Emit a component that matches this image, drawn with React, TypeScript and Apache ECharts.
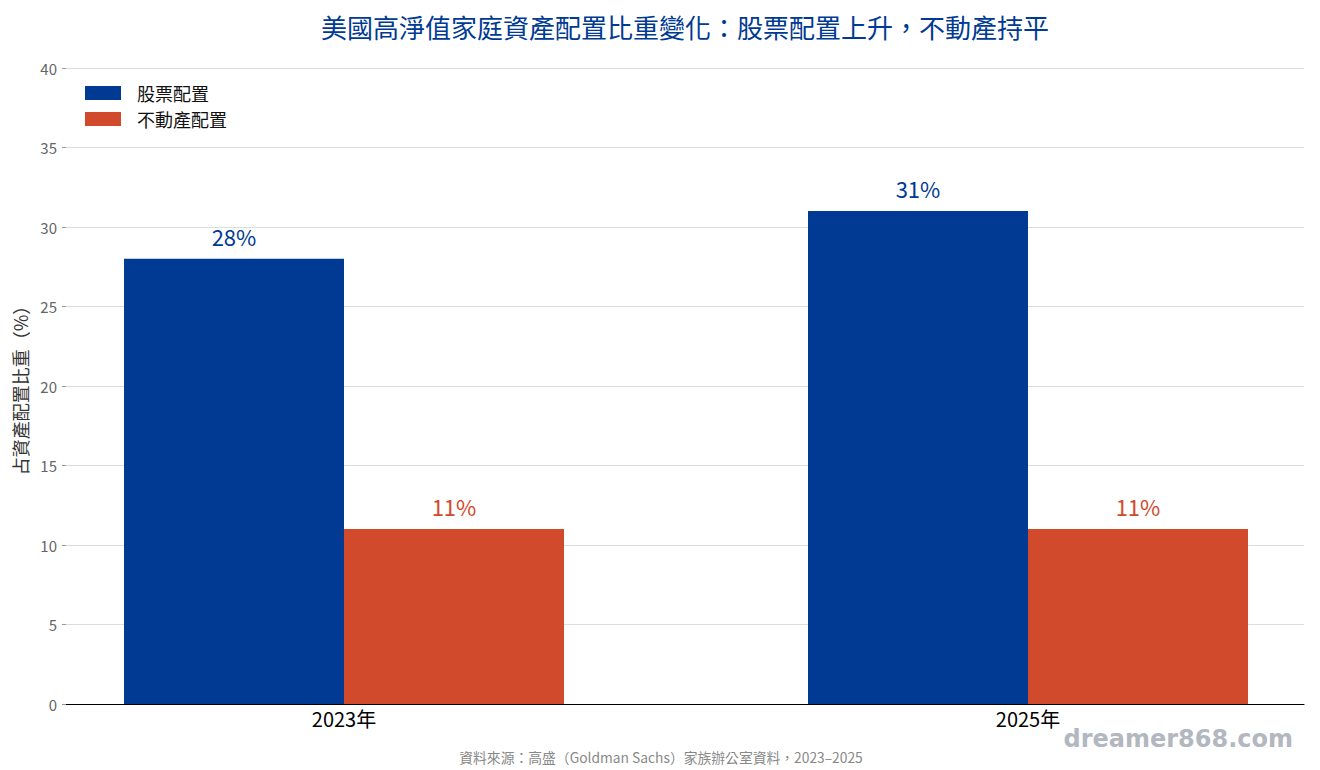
import React, { useEffect, useRef } from "react";
import * as echarts from "echarts";

const categories = ["2023年", "2025年"];
const stockValues = [28, 31];
const realEstateValues = [11, 11];
const seriesNames = ["股票配置", "不動產配置"];
const yTicks = { min: 0, max: 40, interval: 5 };

const TITLE = "美國高淨值家庭資產配置比重變化：股票配置上升，不動產持平";
const SOURCE = "資料來源：高盛（Goldman Sachs）家族辦公室資料，2023–2025";
const WATERMARK = "dreamer868.com";
const FONT = '"Noto Sans CJK TC", "Noto Sans", sans-serif';
const BLUE = "#003A92";
const RED = "#D24A2C";

export default function App() {
  const ref = useRef<HTMLDivElement>(null);
  useEffect(() => {
    if (!ref.current) return;
    const chart = echarts.init(ref.current, undefined, { renderer: "svg" });
    const top = 68;
    const bottom = 66;
    chart.setOption({
      animation: false,
      backgroundColor: "#ffffff",
      textStyle: { fontFamily: FONT },
      title: [
        {
          text: TITLE,
          left: 680,
          textAlign: "center",
          top: 8,
          textStyle: { color: BLUE, fontSize: 26, fontWeight: "normal", fontFamily: FONT },
        },
        {
          text: SOURCE,
          left: 656,
          textAlign: "center",
          top: 745,
          textStyle: { color: "#888888", fontSize: 13.8, fontWeight: "normal", fontFamily: FONT },
        },
      ],
      graphic: [
        {
          type: "text",
          x: 1293,
          y: 727,
          style: {
            text: WATERMARK,
            fill: "#b3b7bf",
            font: 'bold 24px "DejaVu Sans", sans-serif',
            align: "right",
            verticalAlign: "top",
          },
        },
      ],
      legend: {
        orient: "vertical",
        left: 80,
        top: 79,
        itemWidth: 36,
        itemHeight: 14,
        itemGap: 8,
        icon: "rect",
        textStyle: {
          fontSize: 18,
          lineHeight: 16,
          color: "#111111",
          fontFamily: FONT,
          padding: [0, 0, 0, 11],
        },
        data: seriesNames,
      },
      grid: [
        { left: 66, width: 1238, top, bottom, containLabel: false },
        { left: 2, width: 1368, top, bottom, containLabel: false },
      ],
      xAxis: [
        {
          gridIndex: 0,
          type: "value",
          min: 0,
          max: 1,
          axisLine: { show: true, lineStyle: { color: "#000000", width: 1.2 } },
          axisTick: { show: false },
          axisLabel: { show: false },
          splitLine: { show: false },
        },
        {
          gridIndex: 1,
          type: "category",
          data: categories,
          axisLine: { show: false },
          axisTick: { show: false },
          axisLabel: { color: "#000000", fontSize: 20, margin: 4, fontFamily: FONT },
          splitLine: { show: false },
        },
      ],
      yAxis: [
        {
          gridIndex: 0,
          type: "value",
          min: yTicks.min,
          max: yTicks.max,
          interval: yTicks.interval,
          name: "占資產配置比重（%）",
          nameLocation: "middle",
          nameGap: 33,
          nameRotate: 90,
          nameTextStyle: { color: "#333333", fontSize: 18, fontFamily: FONT },
          axisLine: { show: false },
          axisTick: { show: true, length: 4, lineStyle: { color: "#999999" } },
          axisLabel: { color: "#666666", fontSize: 15, margin: 9, fontFamily: FONT },
          splitLine: { show: true, lineStyle: { color: "#dddddd", width: 1 } },
        },
        {
          gridIndex: 1,
          type: "value",
          min: yTicks.min,
          max: yTicks.max,
          interval: yTicks.interval,
          show: false,
          splitLine: { show: false },
        },
      ],
      series: [
        {
          name: seriesNames[0],
          type: "bar",
          xAxisIndex: 1,
          yAxisIndex: 1,
          data: stockValues,
          barWidth: 220,
          barGap: "0%",
          itemStyle: { color: BLUE },
          label: {
            show: true,
            position: "top",
            distance: 12,
            formatter: "{c}%",
            color: BLUE,
            fontSize: 22,
            fontFamily: FONT,
          },
        },
        {
          name: seriesNames[1],
          type: "bar",
          xAxisIndex: 1,
          yAxisIndex: 1,
          data: realEstateValues,
          barWidth: 220,
          barGap: "0%",
          itemStyle: { color: RED },
          label: {
            show: true,
            position: "top",
            distance: 12,
            formatter: "{c}%",
            color: RED,
            fontSize: 22,
            fontFamily: FONT,
          },
        },
      ],
    });
    return () => chart.dispose();
  }, []);
  return (
    <div
      ref={ref}
      style={{ position: "fixed", left: 0, top: 0, width: 1400, height: 770, background: "#fff" }}
    />
  );
}
